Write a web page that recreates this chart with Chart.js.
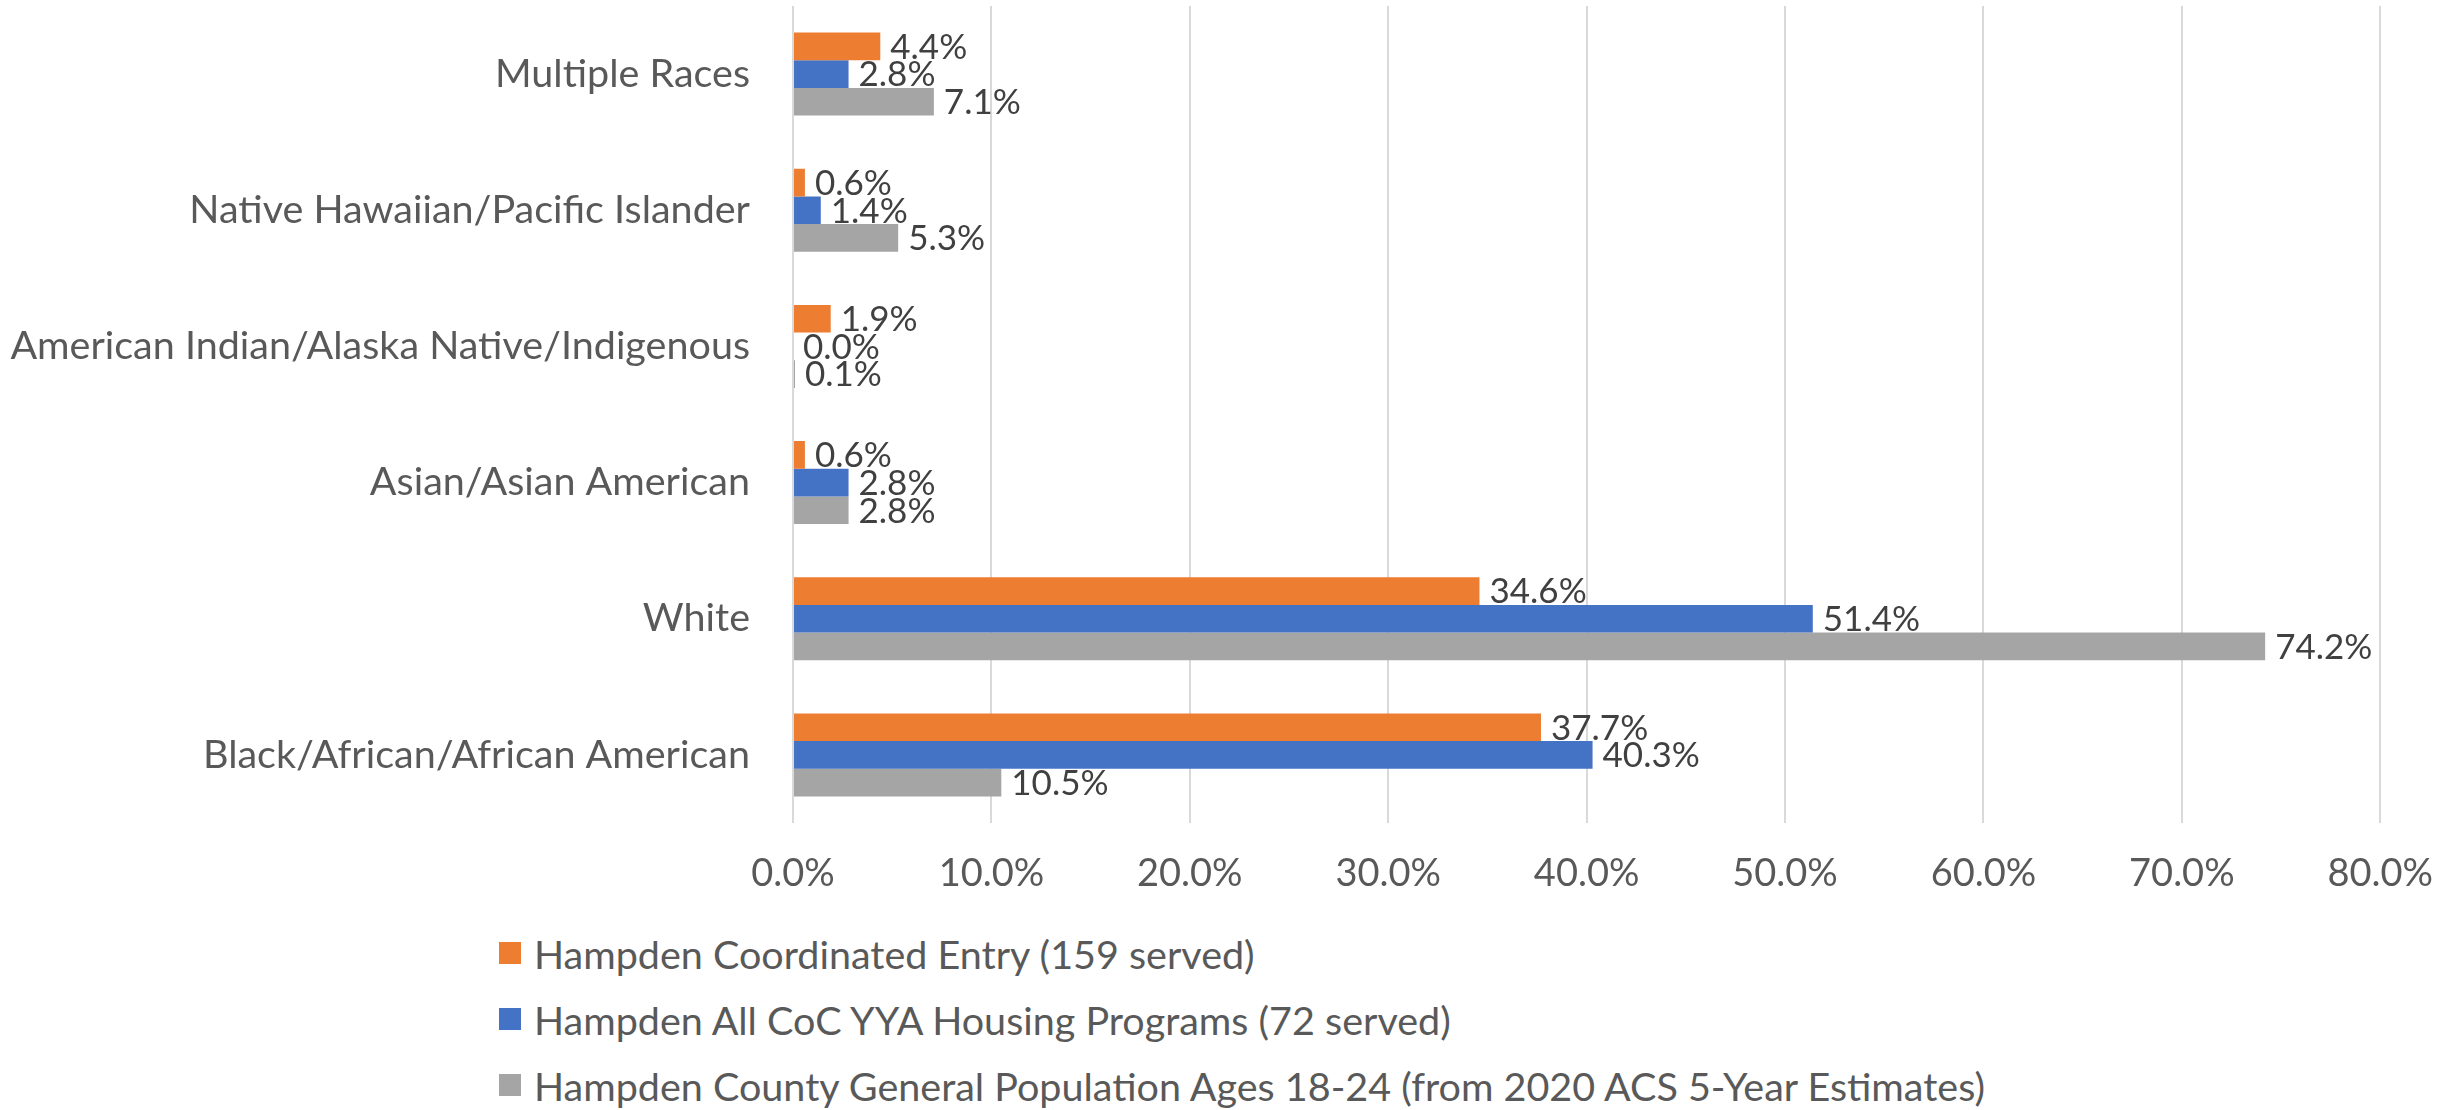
<!DOCTYPE html>
<html>
<head>
<meta charset="utf-8">
<script src="https://cdn.jsdelivr.net/npm/chart.js@4.4.1/dist/chart.umd.min.js"></script>
<style>
  body { margin: 0; background: #fff; width: 2461px; height: 1110px; overflow: hidden; position: relative; }
  #wrap { position: absolute; left: 0; top: 0; width: 2461px; height: 910px; }
  #legend { position: absolute; left: 499px; top: 920px; font-family: Lato, sans-serif; font-size: 39.5px; color: #595959; }
  .lg-row { height: 66px; display: flex; align-items: center; }
  .lg-box { width: 22px; height: 22px; margin-right: 13px; }
</style>
</head>
<body>
<div id="wrap"><canvas id="myChart"></canvas></div>
<div id="legend"></div>
<script>
// categories, top to bottom
var races = ['Multiple Races', 'Native Hawaiian/Pacific Islander', 'American Indian/Alaska Native/Indigenous',
    'Asian/Asian American', 'White', 'Black/African/African American'];
var coordEntry = [4.4, 0.6, 1.9, 0.6, 34.6, 37.7];
var cocYya = [2.8, 1.4, 0.0, 2.8, 51.4, 40.3];
var countyPop = [7.1, 5.3, 0.1, 2.8, 74.2, 10.5];
var seriesNames = ['Hampden Coordinated Entry (159 served)',
    'Hampden All CoC YYA Housing Programs (72 served)',
    'Hampden County General Population Ages 18-24 (from 2020 ACS 5-Year Estimates)'];
var xTicks = [0, 10, 20, 30, 40, 50, 60, 70, 80];

var colors = ['rgb(237, 125, 49)', 'rgb(68, 114, 196)', 'rgb(165, 165, 165)'];

// value labels at bar ends
var barLabels = {
    id: 'barLabels',
    afterDatasetsDraw: function (chart) {
        var ctx = chart.ctx;
        ctx.save();
        ctx.font = '35px Lato';
        ctx.fillStyle = '#404040';
        ctx.textAlign = 'left';
        ctx.textBaseline = 'middle';
        chart.data.datasets.forEach(function (ds, i) {
            chart.getDatasetMeta(i).data.forEach(function (bar, j) {
                ctx.fillText(ds.data[j].toFixed(1) + '%', bar.x + 10, bar.y + 1);
            });
        });
        ctx.restore();
    }
};

var ctx = document.getElementById('myChart');
var myChart = new Chart(ctx, {
    type: 'bar',
    data: {
        labels: races,
        datasets: [
            { label: seriesNames[0], data: coordEntry, backgroundColor: colors[0] },
            { label: seriesNames[1], data: cocYya, backgroundColor: colors[1] },
            { label: seriesNames[2], data: countyPop, backgroundColor: colors[2] }
        ]
    },
    options: {
        indexAxis: 'y',
        responsive: true,
        maintainAspectRatio: false,
        animation: false,
        layout: { padding: { top: 6, right: 80, bottom: 0, left: 0 } },
        datasets: { bar: { categoryPercentage: 0.61, barPercentage: 1.0 } },
        scales: {
            x: {
                min: 0,
                max: 80,
                afterBuildTicks: function (scale) {
                    scale.ticks = xTicks.map(function (v) { return { value: v }; });
                },
                afterFit: function (scale) { scale.height = 87; },
                grid: { color: '#d9d9d9', lineWidth: 2, drawTicks: false },
                border: { display: false },
                ticks: {
                    padding: 28,
                    color: '#595959',
                    font: { family: 'Lato', size: 38 },
                    callback: function (v) { return v.toFixed(1) + '%'; }
                }
            },
            y: {
                afterFit: function (scale) {
                    scale.width = 793;
                    scale.paddingTop = 0;
                    scale.paddingBottom = 0;
                },
                grid: { display: false, drawTicks: false },
                border: { display: false },
                ticks: {
                    padding: 43,
                    color: '#595959',
                    font: { family: 'Lato', size: 39.5 }
                }
            }
        },
        plugins: {
            legend: { display: false },
            tooltip: { enabled: false }
        }
    },
    plugins: [barLabels]
});

// legend under the chart, one series per row
var out = '';
myChart.data.datasets.forEach(function (ds) {
    out += '<div class="lg-row"><div class="lg-box" style="background:' + ds.backgroundColor + '"></div>' + ds.label + '</div>';
});
document.getElementById('legend').innerHTML = out;
</script>
</body>
</html>
